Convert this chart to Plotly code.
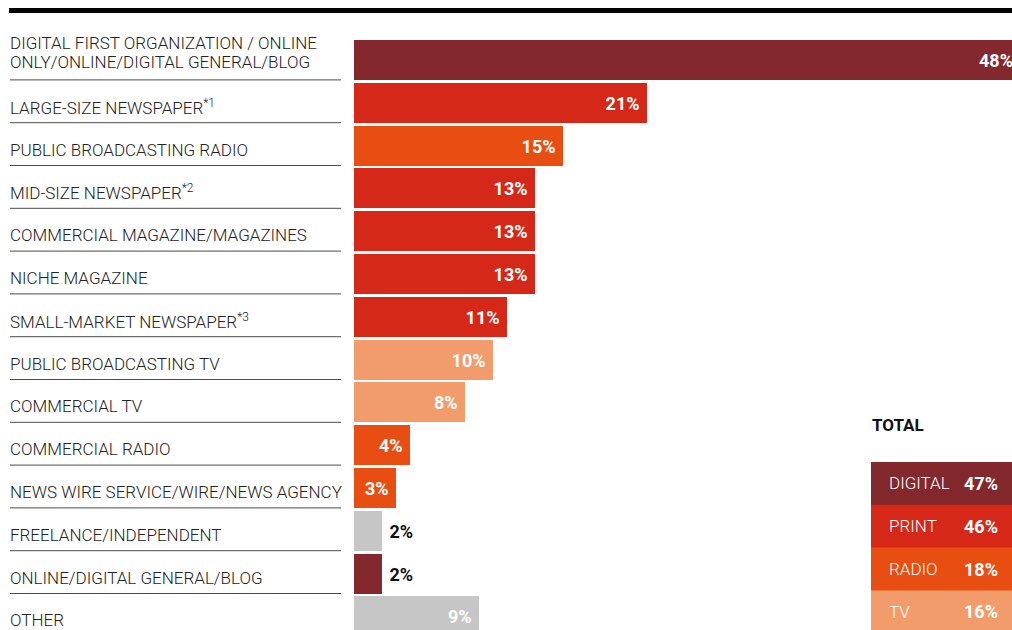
import plotly.graph_objects as go

# --- data -----------------------------------------------------------------
categories = [
    "DIGITAL FIRST ORGANIZATION / ONLINE\nONLY/ONLINE/DIGITAL GENERAL/BLOG",
    "LARGE-SIZE NEWSPAPER<sup>*1</sup>",
    "PUBLIC BROADCASTING RADIO",
    "MID-SIZE NEWSPAPER<sup>*2</sup>",
    "COMMERCIAL MAGAZINE/MAGAZINES",
    "NICHE MAGAZINE",
    "SMALL-MARKET NEWSPAPER<sup>*3</sup>",
    "PUBLIC BROADCASTING TV",
    "COMMERCIAL TV",
    "COMMERCIAL RADIO",
    "NEWS WIRE SERVICE/WIRE/NEWS AGENCY",
    "FREELANCE/INDEPENDENT",
    "ONLINE/DIGITAL GENERAL/BLOG",
    "OTHER",
]
values = [48, 21, 15, 13, 13, 13, 11, 10, 8, 4, 3, 2, 2, 9]
media = ["digital", "print", "radio", "print", "print", "print", "print",
         "tv", "tv", "radio", "radio", "other", "digital", "other"]

total_labels = ["DIGITAL", "PRINT", "RADIO", "TV"]
total_values = [47, 46, 18, 16]
total_media = ["digital", "print", "radio", "tv"]

media_colors = {
    "digital": "#83292d",
    "print": "#d52818",
    "radio": "#e84e12",
    "tv": "#f39c6b",
    "other": "#c6c6c6",
}

# --- layout geometry (pixels) -------------------------------------------------
W, H = 1012, 630
PLOT_L, PLOT_T = 354, 30
PLOT_W, PLOT_H = W - PLOT_L, H - PLOT_T
PX_PER_PCT = 13.93
ROW_PX = 42.8
FIRST_ROW_CENTER = 60

x_max = PLOT_W / PX_PER_PCT
y_top = -(FIRST_ROW_CENTER - PLOT_T) / ROW_PX
y_bottom = y_top + PLOT_H / ROW_PX


def xp(px):
    return (px - PLOT_L) / PLOT_W


def yp(py):
    return (H - py) / PLOT_H


FONT = "Roboto, 'DejaVu Sans', sans-serif"

colors = [media_colors[m] for m in media]
inside = [v > 2 for v in values]
# bars running past the right edge get their value label as a paper annotation
overflow = [v > x_max for v in values]
texts = []
for v, ins, ov in zip(values, inside, overflow):
    if ov:
        texts.append("")
    elif ins:
        texts.append(f"{v}%\u00a0")
    else:
        texts.append(f"\u00a0{v}%")
positions = ["inside" if ins else "outside" for ins in inside]

fig = go.Figure(
    go.Bar(
        orientation="h",
        x=values,
        y=categories,
        marker=dict(color=colors, line=dict(width=0)),
        width=0.935,
        text=texts,
        textposition=positions,
        insidetextanchor="end",
        insidetextfont=dict(family=FONT, size=18, color="white", weight="bold"),
        outsidetextfont=dict(family=FONT, size=18, color="#111111", weight="bold"),
        cliponaxis=False,
        hoverinfo="skip",
    )
)

shapes = []
annotations = []

for v, c, ov in zip(values, categories, overflow):
    if ov:
        annotations.append(dict(
            x=v / x_max, xref="paper", y=c, yref="y", text=f"<b>{v}%</b>",
            xanchor="right", yanchor="middle", xshift=-8, showarrow=False,
            font=dict(family=FONT, size=18, color="white")))

# heavy rule across the top
shapes.append(dict(type="rect", xref="paper", yref="paper",
                   x0=xp(9), x1=xp(W + 5), y0=yp(13), y1=yp(8),
                   fillcolor="#000000", line=dict(width=0)))

# category labels with separators below
label_font = dict(family=FONT, size=17, color="#222222", weight=300)
label_x = xp(8)
for i, cat in enumerate(categories):
    lines = cat.split("\n")
    if len(lines) == 1:
        annotations.append(dict(
            x=label_x, xref="paper", y=cat, yref="y", text=cat,
            xanchor="left", yanchor="middle", yshift=-4, showarrow=False,
            font=label_font))
    else:
        for k, line in enumerate(lines):
            annotations.append(dict(
                x=label_x, xref="paper", y=cat, yref="y", text=line,
                xanchor="left", yanchor="middle",
                yshift=17 - 19 * k, showarrow=False,
                font=label_font))
    if i < len(categories) - 1:
        yline = i + 0.5 - 0.035
        shapes.append(dict(type="line", xref="paper", yref="y",
                           x0=xp(10), x1=xp(341), y0=yline, y1=yline,
                           line=dict(color="#4a4a4a", width=1)))

# totals panel
BOX_L, BOX_TOP, BOX_H = 871, 462, 42.8
annotations.append(dict(
    x=xp(870), xref="paper", y=yp(425), yref="paper", text="<b>TOTAL</b>",
    xanchor="left", yanchor="middle", showarrow=False,
    font=dict(family=FONT, size=17, color="#111111")))
for k, (lab, val, m) in enumerate(zip(total_labels, total_values, total_media)):
    top = BOX_TOP + k * BOX_H
    shapes.append(dict(type="rect", xref="paper", yref="paper",
                       x0=xp(BOX_L), x1=xp(W + 5), y0=yp(top + BOX_H + 0.5), y1=yp(top),
                       fillcolor=media_colors[m], line=dict(width=0)))
    mid = top + BOX_H / 2
    annotations.append(dict(
        x=xp(887), xref="paper", y=yp(mid), yref="paper", text=lab,
        xanchor="left", yanchor="middle", showarrow=False,
        font=dict(family=FONT, size=17, color="white", weight=300)))
    annotations.append(dict(
        x=xp(1000), xref="paper", y=yp(mid), yref="paper", text=f"<b>{val}%</b>",
        xanchor="right", yanchor="middle", showarrow=False,
        font=dict(family=FONT, size=18, color="white")))

fig.update_layout(
    width=W, height=H,
    margin=dict(l=PLOT_L, r=0, t=PLOT_T, b=0, pad=0),
    paper_bgcolor="white", plot_bgcolor="white",
    showlegend=False,
    bargap=0,
    xaxis=dict(range=[0, x_max], visible=False, fixedrange=True),
    yaxis=dict(type="category", categoryorder="array", categoryarray=categories,
               range=[y_bottom, y_top], visible=False, fixedrange=True),
    shapes=shapes,
    annotations=annotations,
)

fig.write_html("out.html", config={"displayModeBar": False})
